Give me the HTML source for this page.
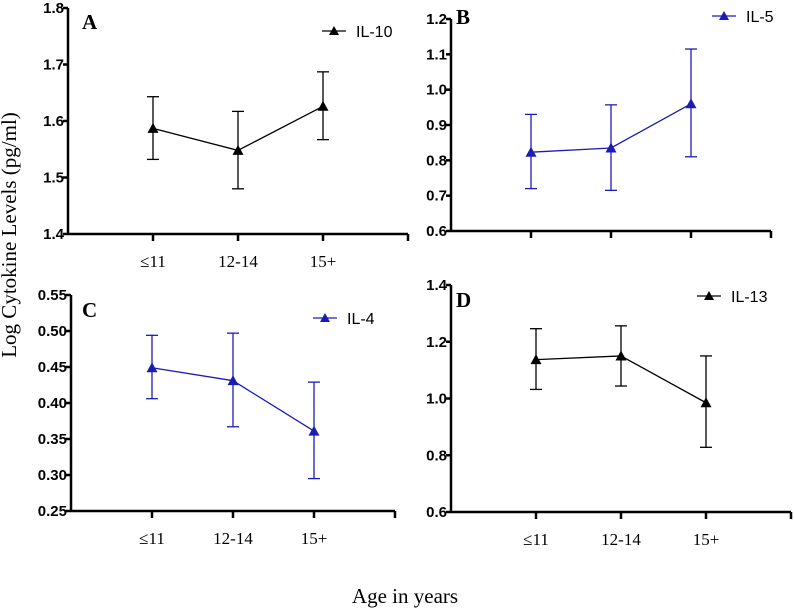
<!DOCTYPE html>
<html><head><meta charset="utf-8"><style>
body{margin:0;background:#fff}
svg{display:block}
.tl{font:bold 15px "Liberation Sans",sans-serif;fill:#000}
.xl{font:17px "Liberation Serif",serif;fill:#000}
.pl{font:bold 21px "Liberation Serif",serif;fill:#000}
.lg{font:16px "Liberation Sans",sans-serif;fill:#000}
</style></head><body>
<svg id="chart" width="794" height="611">
<text x="16" y="235" transform="rotate(-90 16 235)" text-anchor="middle" style="font:21px 'Liberation Serif',serif">Log Cytokine Levels (pg/ml)</text>
<text x="405" y="603" text-anchor="middle" style="font:21px 'Liberation Serif',serif">Age in years</text>
</svg>
<script>
const categories=["≤11","12-14","15+"];
const meanA=[1.587,1.548,1.626], lowA=[1.532,1.480,1.567], highA=[1.643,1.617,1.687];
const meanB=[0.823,0.835,0.960], lowB=[0.720,0.715,0.810], highB=[0.930,0.957,1.115];
const meanC=[0.449,0.431,0.361], lowC=[0.406,0.367,0.295], highC=[0.494,0.497,0.429];
const meanD=[1.137,1.150,0.985], lowD=[1.032,1.044,0.828], highD=[1.246,1.256,1.150];
const ticksA=[1.4,1.5,1.6,1.7,1.8], ticksB=[0.6,0.7,0.8,0.9,1.0,1.1,1.2];
const ticksC=[0.25,0.30,0.35,0.40,0.45,0.50,0.55], ticksD=[0.6,0.8,1.0,1.2,1.4];
const svg=document.getElementById('chart');const NS='http://www.w3.org/2000/svg';
function mk(t,a,p){const e=document.createElementNS(NS,t);for(const k in a)e.setAttribute(k,a[k]);(p||svg).appendChild(e);return e;}
function panel(o){
 const g=mk('g',{});
 
 
 const y=v=>o.y1+(o.y0-o.y1)*(v-o.t[0])/(o.t[o.t.length-1]-o.t[0]);
 const x=i=>o.x0+o.dx*(i+1);
 mk('line',{x1:o.x0,y1:o.y0,x2:o.x0,y2:o.y1,stroke:'#000','stroke-width':2.5},g);
 mk('line',{x1:o.x0,y1:o.y1,x2:o.x0+o.dx*4,y2:o.y1,stroke:'#000','stroke-width':2.5},g);
 o.t.forEach(v=>{mk('line',{x1:o.x0-5,x2:o.x0,y1:y(v),y2:y(v),stroke:'#000','stroke-width':2.5},g);
  const t=mk('text',{x:o.x0-4,y:y(v)+5,'text-anchor':'end',class:'tl'},g);t.textContent=o.dec?v.toFixed(o.dec):v.toFixed(1);
  
  });
 for(let i=0;i<4;i++){const xx=o.x0+o.dx*(i+1);mk('line',{x1:xx,x2:xx,y1:o.y1,y2:o.y1+7,stroke:'#000','stroke-width':2.5},g);}
 if(o.labels)categories.forEach((c,i)=>{const t=mk('text',{x:x(i),y:o.y1+33,'text-anchor':'middle',class:'xl'},g);t.textContent=c;
  
  });
 mk('polyline',{points:o.m.map((v,i)=>x(i)+','+y(v)).join(' '),fill:'none',stroke:o.c,'stroke-width':1.3},g);
 o.m.forEach((v,i)=>{const xx=x(i);
  mk('line',{x1:xx,x2:xx,y1:y(o.lo[i]),y2:y(o.hi[i]),stroke:o.c,'stroke-width':1.3},g);
  mk('line',{x1:xx-6,x2:xx+6,y1:y(o.lo[i]),y2:y(o.lo[i]),stroke:o.c,'stroke-width':1.3},g);
  mk('line',{x1:xx-6,x2:xx+6,y1:y(o.hi[i]),y2:y(o.hi[i]),stroke:o.c,'stroke-width':1.3},g);
  const p=mk('path',{d:`M${xx-5.5},${y(v)+4.5}L${xx+5.5},${y(v)+4.5}L${xx},${y(v)-5.5}Z`,fill:o.c},g);
  
  });
 const pl=mk('text',{x:o.px,y:o.py,class:'pl'},g);pl.textContent=o.id;
 
 
 mk('line',{x1:o.lx,x2:o.lx+24,y1:o.ly,y2:o.ly,stroke:o.c,'stroke-width':1.3},g);
 mk('path',{d:`M${o.lx+7},${o.ly+4}L${o.lx+17},${o.ly+4}L${o.lx+12},${o.ly-5}Z`,fill:o.c},g);
 const lt=mk('text',{x:o.lx+34,y:o.ly+6,class:'lg'},g);lt.textContent=o.name;
 
 
}
panel({id:'A',x0:68,dx:85,y0:8,y1:234,t:ticksA,m:meanA,lo:lowA,hi:highA,c:'#000',labels:true,px:82,py:29,lx:322,ly:31,name:'IL-10'});
panel({id:'B',x0:451,dx:80,y0:19,y1:231,t:ticksB,m:meanB,lo:lowB,hi:highB,c:'#1c1cb4',labels:false,px:456,py:24,lx:712,ly:16,name:'IL-5'});
panel({id:'C',x0:71,dx:81,y0:295,y1:511,t:ticksC,m:meanC,lo:lowC,hi:highC,c:'#1c1cb4',labels:true,dec:2,px:82,py:317,lx:313,ly:318,name:'IL-4'});
panel({id:'D',x0:451,dx:85,y0:285,y1:512,t:ticksD,m:meanD,lo:lowD,hi:highD,c:'#000',labels:true,px:456,py:307,lx:697,ly:296,name:'IL-13'});
</script>
</body></html>
